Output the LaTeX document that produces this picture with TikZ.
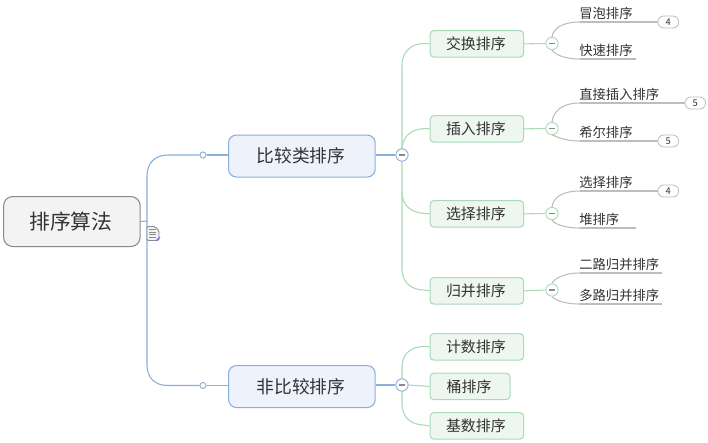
\documentclass[tikz,border=0pt]{standalone}
\usepackage{fontspec}
\setmainfont{Noto Sans CJK SC}
\definecolor{rootfill}{HTML}{F3F3F3}
\definecolor{rootline}{HTML}{8A8A8A}
\definecolor{bluefill}{HTML}{EDF2FB}
\definecolor{blueline}{HTML}{8AAFDB}
\definecolor{greenfill}{HTML}{EEF6F0}
\definecolor{greenline}{HTML}{A9DAB9}
\definecolor{leafline}{HTML}{BDBDBD}
\definecolor{txt}{HTML}{333333}
\tikzset{
  x=0.75pt,y=-0.75pt,
  box/.style={rounded corners=6pt,line width=0.8pt,text=txt,inner sep=0pt,anchor=north west,execute at begin node={\hspace*{-1.5pt}}},
  rootbox/.style={box,fill=rootfill,draw=rootline,minimum width=102.5pt,minimum height=37.5pt,font=\fontsize{15.6}{18}\selectfont,rounded corners=7pt},
  lvla/.style={box,fill=bluefill,draw=blueline,minimum width=110pt,minimum height=31.5pt,font=\fontsize{13.3}{16}\selectfont},
  lvlb/.style={box,fill=greenfill,draw=greenline,minimum width=70.25pt,minimum height=20pt,font=\fontsize{11.2}{14}\selectfont,rounded corners=3pt},
  leaftxt/.style={inner sep=0pt,anchor=south west,align=left,text=txt,minimum height=12.75pt,font=\fontsize{10}{12}\selectfont},
  pill/.style={draw=leafline,fill=white,rounded corners=4.4pt,line width=0.6pt,minimum width=15.5pt,minimum height=9pt,inner sep=0pt,text=txt,font=\fontsize{7}{8}\selectfont},
  toggle/.style={circle,fill=white,line width=0.7pt,minimum size=9.2pt,inner sep=0pt},
  dot/.style={circle,fill=white,draw=blueline,line width=0.7pt,minimum size=4.6pt,inner sep=0pt},
  bluelink/.style={draw=blueline,line width=0.8pt},
  greenlink/.style={draw=greenline,line width=0.8pt},
  leaflink/.style={draw=leafline,line width=0.8pt},
}
\newcommand{\leafitem}[4]{\node[leaftxt,text width=#4*0.75pt] (#1) at (580,#3) {\hspace*{-0.75pt}#2};
  \draw[leaflink] (#1.south west) -- (#1.south east);}
\newcommand{\tgbar}[2]{\draw[#2,line width=0.9pt] ([xshift=-2pt]#1.center) -- ([xshift=2pt]#1.center);}
\begin{document}
\begin{tikzpicture}
\useasboundingbox (0,0) rectangle (708,443);
\fill[white] (0,0) rectangle (708,443);
% nodes
\node[rootbox] (root) at (3,196) {排序算法};
\node[lvla] (cmp) at (228,134.5) {比较类排序};
\node[lvla] (ncmp) at (228,365) {非比较排序};
\node[lvlb] (swap) at (429.5,30) {交换排序};
\node[lvlb] (ins) at (429.5,115) {插入排序};
\node[lvlb] (sel) at (429.5,200) {选择排序};
\node[lvlb] (mrg) at (429.5,277) {归并排序};
\node[lvlb] (cnt) at (429.5,333) {计数排序};
\node[lvlb,minimum width=60pt] (bkt) at (429.5,372.5) {桶排序};
\node[lvlb] (rdx) at (429.5,412) {基数排序};
\leafitem{a1}{冒泡排序}{22}{77}
\leafitem{a2}{快速排序}{59}{55}
\leafitem{b1}{直接插入排序}{103}{104}
\leafitem{b2}{希尔排序}{141}{77}
\leafitem{c1}{选择排序}{191}{77}
\leafitem{c2}{堆排序}{228}{55}
\leafitem{d1}{二路归并排序}{273}{81}
\leafitem{d2}{多路归并排序}{304}{81}
\node[pill,anchor=west] (pa) at (a1.south east) {4};
\node[pill,anchor=west] (pb) at (b1.south east) {5};
\node[pill,anchor=west] (pc) at (b2.south east) {5};
\node[pill,anchor=west] (pd) at (c1.south east) {4};
% anchors for the trunk
\coordinate (tr) at (147,221);
\coordinate (tu) at (402,155);
\coordinate (td) at (402,385);
% toggles (named before connectors; painted again afterwards)
\node[toggle] (tcmp) at (tu) {};
\node[toggle] (tncmp) at (td) {};
\node[toggle] (tswap) at (552,43.5) {};
\node[toggle] (tins) at (552,128.5) {};
\node[toggle] (tsel) at (552,213.5) {};
\node[toggle] (tmrg) at (552,290) {};
\node[dot] (dcmp) at (203,155) {};
\node[dot] (dncmp) at (203,385.5) {};
% blue connectors
\draw[bluelink] (root.east) -- (tr);
\draw[bluelink] (dcmp.west) -- (168,155) .. controls (155,155) and (147,163) .. (147,176) -- (147,365) .. controls (147,378) and (155,385.5) .. (168,385.5) -- (dncmp.west);
\draw[bluelink] (dcmp.east) -- (cmp.west |- dcmp.east);
\draw[bluelink] (dncmp.east) -- (ncmp.west |- dncmp.east);
\draw[bluelink] (cmp.east |- tcmp) -- (tcmp.west);
\draw[bluelink] (ncmp.east |- tncmp) -- (tncmp.west);
% green connectors
\draw[greenlink] (swap.west) -- (424,43.5) .. controls (411,43.5) and (402,52) .. (402,65) -- (402,269) .. controls (402,282) and (411,290) .. (424,290) -- (mrg.west);
\draw[greenlink] (ins.west) -- (426,128.5) .. controls (412,128.5) and (402,136) .. (402,150);
\draw[greenlink] (sel.west) -- (426,213.5) .. controls (412,213.5) and (402,206) .. (402,192);
\draw[greenlink] (tncmp.east) -- (bkt.west);
\draw[greenlink] (cnt.west) -- (424,346.5) .. controls (411,346.5) and (402,354) .. (402,367) -- (402,404) .. controls (402,417) and (411,425) .. (424,425) -- (rdx.west);
\foreach \bx/\tg in {swap/tswap,ins/tins,sel/tsel,mrg/tmrg}{
  \draw[greenlink] (\bx.east) -- (\tg.west);
}
% leaf connectors
\draw[leaflink] (tswap.north) .. controls (553,30) and (560,22) .. (a1.south west);
\draw[leaflink] (tswap.south) .. controls (553,52) and (560,59) .. (a2.south west);
\draw[leaflink] (tins.north) .. controls (553,113) and (560,103) .. (b1.south west);
\draw[leaflink] (tins.south) .. controls (553,134) and (560,141) .. (b2.south west);
\draw[leaflink] (tsel.north) .. controls (553,199) and (560,191) .. (c1.south west);
\draw[leaflink] (tsel.south) .. controls (553,222) and (560,228) .. (c2.south west);
\draw[leaflink] (tmrg.north) .. controls (553,281) and (560,273) .. (d1.south west);
\draw[leaflink] (tmrg.south) .. controls (553,298) and (560,304) .. (d2.south west);
% toggles on top
\foreach \n in {tcmp,tncmp}{
  \node[toggle,draw=blueline] at (\n) {};
  \tgbar{\n}{rootline}
}
\foreach \n in {tswap,tins,tsel,tmrg}{
  \node[toggle,draw=greenline] at (\n) {};
  \tgbar{\n}{rootline}
}
% note icon
\draw[fill=rootfill,draw=rootline,line width=0.7pt,rounded corners=1pt]
  (147,226.5) -- (155,226.5) -- (159,231) -- (159,240.5) -- (147,240.5) -- cycle;
\foreach \yy in {229.5,232,234.5,237}{
  \draw[rootline,line width=0.6pt] (149,\yy) -- (156,\yy);
}
\draw[blue!55!white,line width=0.8pt] (156.5,240.5) -- (160,237);
\end{tikzpicture}
\end{document}
